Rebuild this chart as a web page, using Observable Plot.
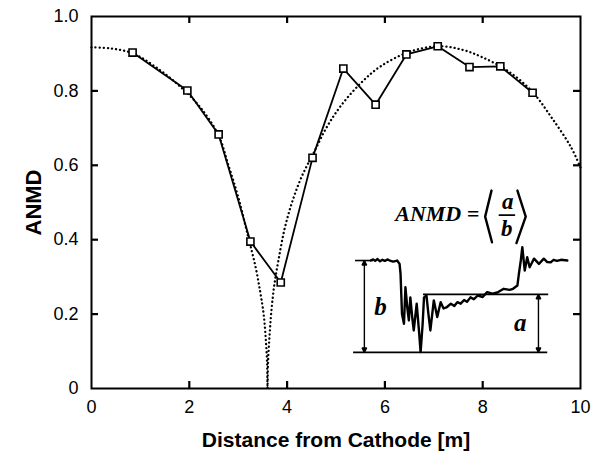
<!DOCTYPE html>
<html><head><meta charset="utf-8">
<script src="https://cdn.jsdelivr.net/npm/d3@7"></script>
<script src="https://cdn.jsdelivr.net/npm/@observablehq/plot@0.6"></script>
<style>
body{margin:0;background:#fff;}
#chart svg{display:block;background:#fff}
g[aria-label="x-axis label"] text{font-weight:bold;font-size:21px}
g[aria-label="y-axis label"] text{font-weight:bold;font-size:22px}
</style></head><body><div id="chart"></div>
<script>
// measured ANMD values
const distance = [0.84,1.96,2.6,3.25,3.87,4.52,5.15,5.81,6.44,7.08,7.73,8.36,9.02];
const anmd = [0.903,0.801,0.683,0.395,0.285,0.62,0.86,0.763,0.898,0.92,0.864,0.866,0.795];
// dotted reference curve
const fitX = [0,0.4,0.86,1.41,1.86,2.23,2.6,2.8,3.0,3.2,3.35,3.45,3.52,3.56,3.59,3.6,3.61,3.64,3.68,3.74,3.83,3.95,4.1,4.3,4.55,4.8,5.1,5.5,5.9,6.5,7.1,7.6,8.0,8.5,9.0,9.4,9.8,10];
const fitY = [0.917,0.914,0.9,0.855,0.806,0.755,0.68,0.6,0.515,0.41,0.33,0.26,0.2,0.14,0.07,0,0.07,0.14,0.21,0.28,0.35,0.43,0.5,0.57,0.635,0.7,0.76,0.82,0.865,0.905,0.92,0.91,0.89,0.855,0.8,0.73,0.65,0.594];
// inset waveform (in plot units)
const waveX = [5.71,5.76,5.80,5.85,5.90,5.95,6.00,6.05,6.10,6.17,6.25,6.30,6.32,6.35,6.39,6.42,6.46,6.49,6.52,6.56,6.59,6.65,6.70,6.73,6.77,6.80,6.85,6.89,6.93,7.00,7.07,7.14,7.20,7.27,7.35,7.42,7.48,7.55,7.62,7.68,7.75,7.82,7.90,8.00,8.09,8.20,8.30,8.43,8.55,8.62,8.71,8.74,8.78,8.81,8.86,8.91,8.96,9.05,9.15,9.25,9.32,9.39,9.45,9.52,9.60,9.73];
const waveY = [0.344,0.347,0.343,0.348,0.342,0.346,0.343,0.347,0.344,0.341,0.344,0.335,0.308,0.200,0.174,0.272,0.215,0.183,0.245,0.190,0.156,0.228,0.150,0.098,0.170,0.245,0.250,0.200,0.156,0.237,0.192,0.232,0.215,0.219,0.228,0.222,0.232,0.228,0.238,0.233,0.245,0.240,0.250,0.246,0.259,0.255,0.258,0.268,0.265,0.268,0.277,0.308,0.345,0.380,0.317,0.353,0.326,0.349,0.335,0.349,0.340,0.339,0.346,0.343,0.346,0.344];
// inset guide lines
const guideX1 = [5.40,5.36,6.79];
const guideX2 = [5.77,9.33,9.35];
const guideY  = [0.344,0.097,0.253];
const arrowX  = [5.58,9.14];
const arrowY1 = [0.097,0.097];
const arrowY2 = [0.344,0.253];
const insetLabelText = ["b","a"];
const insetLabelX = [5.91,8.77];
const insetLabelY = [0.218,0.175];
// formula
const formulaText = ["ANMD =","a","b"];
const formulaX = [7.93,8.51,8.49];
const formulaY = [0.470,0.503,0.430];
const fracBarX = [8.34,8.65];
const fracBarY = [0.466,0.466];
const bracketLX = [8.18,8.05,8.19];
const bracketLY = [0.532,0.462,0.393];
const bracketRX = [8.71,8.88,8.69];
const bracketRY = [0.532,0.462,0.391];
// ticks
const xTicks = [0,2,4,6,8,10];
const yTicks = [0,0.2,0.4,0.6,0.8,1.0];
const xInner = [2,4,6,8];
const yInner = [0.2,0.4,0.6,0.8];

const pts = distance.map((x,i)=>({x,y:anmd[i]}));
const fit = fitX.map((x,i)=>({x,y:fitY[i]}));
const wave = waveX.map((x,i)=>({x,y:waveY[i]}));
const guides = guideX1.map((x1,i)=>({x1,x2:guideX2[i],y:guideY[i]}));
const arrows = arrowX.map((x,i)=>({x,y1:arrowY1[i],y2:arrowY2[i]}));
const insetLabels = insetLabelText.map((t,i)=>({t,x:insetLabelX[i],y:insetLabelY[i]}));
const formula = formulaText.map((t,i)=>({t,x:formulaX[i],y:formulaY[i]}));
const fracBar = fracBarX.map((x,i)=>({x,y:fracBarY[i]}));
const bracketL = bracketLX.map((x,i)=>({x,y:bracketLY[i]}));
const bracketR = bracketRX.map((x,i)=>({x,y:bracketRY[i]}));

const filledArrow = (color) => {
  const m = d3.create("svg:marker")
    .attr("viewBox","-5 -5 10 10")
    .attr("markerUnits","userSpaceOnUse")
    .attr("markerWidth",9).attr("markerHeight",9)
    .attr("orient","auto-start-reverse")
    .attr("overflow","visible");
  m.append("path").attr("d","M-5,-2.6L0,0L-5,2.6Z").attr("fill",color);
  return m.node();
};

const serif = "'Liberation Serif','DejaVu Serif',serif";

const chart = Plot.plot({
  width: 597, height: 453,
  marginLeft: 91, marginRight: 17, marginTop: 16, marginBottom: 65,
  style: {fontFamily: "'Liberation Sans', Arial, sans-serif", color: "#000", background: "#fff"},
  x: {domain: [0,10]},
  y: {domain: [0,1]},
  marks: [
    Plot.axisX({anchor:"bottom", ticks: xTicks, tickSize: 0, tickPadding: 12, fontSize: 18,
      tickFormat: d => String(d), label: "Distance from Cathode [m]", labelAnchor: "center", labelArrow: "none", labelOffset: 58}),
    Plot.axisY({anchor:"left", ticks: yTicks, tickSize: 0, tickPadding: 13, fontSize: 18,
      tickFormat: d => d === 0 ? "0" : d.toFixed(1), label: "ANMD", labelAnchor: "center", labelArrow: "none", labelOffset: 66}),
    Plot.frame({stroke: "#000", strokeWidth: 2}),
    // inward ticks on all four sides (frame is 489 x 372 px; ticks 7 px long)
    Plot.ruleX(xInner, {x: d => d, insetTop: 365, stroke: "#000", strokeWidth: 2.2}),
    Plot.ruleX(xInner, {x: d => d, insetBottom: 365, stroke: "#000", strokeWidth: 2.2}),
    Plot.ruleY(yInner, {y: d => d, insetRight: 482, stroke: "#000", strokeWidth: 2.2}),
    Plot.ruleY(yInner, {y: d => d, insetLeft: 482, stroke: "#000", strokeWidth: 2.2}),
    Plot.line(fit, {x:"x", y:"y", curve:"catmull-rom", stroke:"#000", strokeWidth: 2.3, strokeDasharray: "0.1,4", strokeLinecap: "round"}),
    Plot.line(pts, {x:"x", y:"y", stroke:"#000", strokeWidth: 1.8}),
    Plot.dot(pts, {x:"x", y:"y", symbol:"square", r: 4, fill:"#fff", stroke:"#000", strokeWidth: 1.6}),
    // inset
    Plot.line(wave, {x:"x", y:"y", stroke:"#000", strokeWidth: 2.4, strokeLinejoin: "round"}),
    Plot.ruleY(guides, {x1:"x1", x2:"x2", y:"y", stroke:"#000", strokeWidth: 1.6}),
    Plot.link(arrows, {x1:"x", x2:"x", y1:"y1", y2:"y2", stroke:"#000", strokeWidth: 1.4, markerStart: filledArrow, markerEnd: filledArrow}),
    Plot.text(insetLabels, {x:"x", y:"y", text:"t", fontFamily: serif, fontStyle:"italic", fontWeight:"bold", fontSize: 25}),
    Plot.text(formula.slice(0,1), {x:"x", y:"y", text:"t", textAnchor:"end", fontFamily: serif, fontStyle:"italic", fontWeight:"bold", fontSize: 22}),
    Plot.text(formula.slice(1), {x:"x", y:"y", text:"t", fontFamily: serif, fontStyle:"italic", fontWeight:"bold", fontSize: 23}),
    Plot.line(fracBar, {x:"x", y:"y", stroke:"#000", strokeWidth: 1.6}),
    Plot.line(bracketL, {x:"x", y:"y", stroke:"#000", strokeWidth: 2.4}),
    Plot.line(bracketR, {x:"x", y:"y", stroke:"#000", strokeWidth: 2.4})
  ]
});
document.getElementById("chart").append(chart);
</script>
</body></html>
